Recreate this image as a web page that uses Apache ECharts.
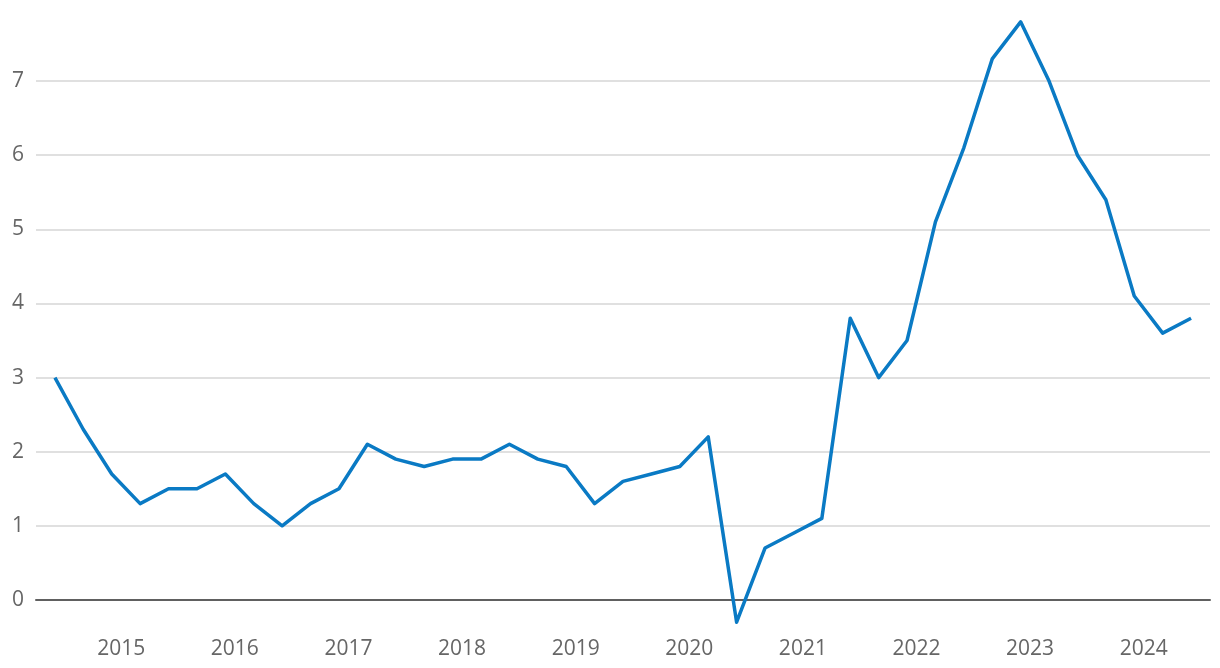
<!DOCTYPE html>
<html>
<head>
<meta charset="utf-8">
<script src="https://cdn.jsdelivr.net/npm/echarts@6/dist/echarts.min.js"></script>
<style>
html,body{margin:0;padding:0;background:#fff;overflow:hidden;}
#chart{width:1220px;height:668px;}
</style>
</head>
<body>
<div id="chart"></div>
<script>
// Quarterly observations (first day of the sampled month)
const periods = [
  '2014-06','2014-09','2014-12',
  '2015-03','2015-06','2015-09','2015-12',
  '2016-03','2016-06','2016-09','2016-12',
  '2017-03','2017-06','2017-09','2017-12',
  '2018-03','2018-06','2018-09','2018-12',
  '2019-03','2019-06','2019-09','2019-12',
  '2020-03','2020-06','2020-09','2020-12',
  '2021-03','2021-06','2021-09','2021-12',
  '2022-03','2022-06','2022-09','2022-12',
  '2023-03','2023-06','2023-09','2023-12',
  '2024-03','2024-06'
];
const values = [
  3.0, 2.3, 1.7,
  1.3, 1.5, 1.5, 1.7,
  1.3, 1.0, 1.3, 1.5,
  2.1, 1.9, 1.8, 1.9,
  1.9, 2.1, 1.9, 1.8,
  1.3, 1.6, 1.7, 1.8,
  2.2, -0.3, 0.7, 0.9,
  1.1, 3.8, 3.0, 3.5,
  5.1, 6.1, 7.3, 7.8,
  7.0, 6.0, 5.4, 4.1,
  3.6, 3.8
];
const yearLabels = ['2015','2016','2017','2018','2019','2020','2021','2022','2023','2024'];

function toMonth(p){ const [y,m] = p.split('-').map(Number); return y*12 + (m-1); }
const seriesData = periods.map((p,i) => [toMonth(p), values[i]]);
const yearTicks = yearLabels.map(y => Number(y)*12);

const chart = echarts.init(document.getElementById('chart'));
const font = '"Open Sans", "Liberation Sans", sans-serif';
chart.setOption({
  animation: false,
  grid: { left: 36, right: 10, top: 7, bottom: 31, containLabel: false, outerBoundsMode: 'none' },
  xAxis: {
    type: 'value',
    min: toMonth(periods[0]) - 2,
    max: toMonth(periods[periods.length-1]) + 2,
    axisLine: { show: true, onZero: true, lineStyle: { color: '#606060', width: 2 } },
    axisTick: { show: false },
    splitLine: { show: false },
    axisLabel: {
      customValues: yearTicks,
      formatter: v => String(Math.round(v/12)),
      color: '#666666',
      fontSize: 21,
      fontFamily: font,
      margin: 2
    }
  },
  yAxis: {
    type: 'value',
    min: -0.5,
    max: 8,
    splitNumber: 8,
    axisLine: { show: false },
    axisTick: { show: false },
    axisLabel: {
      color: '#666666',
      fontSize: 21,
      fontFamily: font,
      margin: 12,
      showMinLabel: false,
      showMaxLabel: false,
      formatter: v => (Number.isInteger(v) && v >= 0 && v <= 7 ? String(v) : '')
    },
    splitLine: {
      show: true,
      showMinLine: false,
      showMaxLine: false,
      lineStyle: { color: '#d6d6d6', width: 1.5 }
    }
  },
  series: [{
    type: 'line',
    data: seriesData,
    showSymbol: false,
    symbol: 'none',
    lineStyle: { color: '#0a7ac4', width: 3.5, join: 'round' },
    itemStyle: { color: '#0a7ac4' },
    z: 3
  }]
});
</script>
</body>
</html>
